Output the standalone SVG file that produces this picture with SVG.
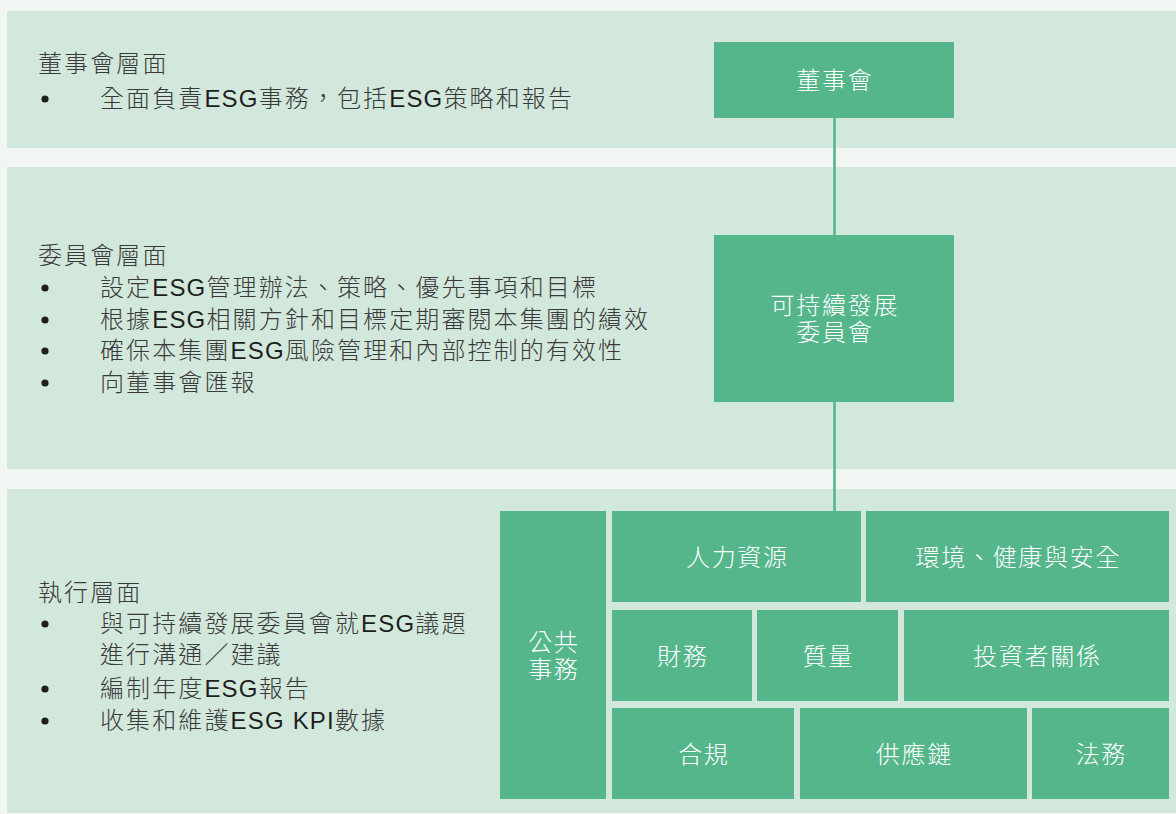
<svg xmlns="http://www.w3.org/2000/svg" width="1176" height="814" viewBox="0 0 1176 814">
<defs>
<style>
.bg{fill:#f1f6f3}
.band{fill:#d3e8dc}
.box{fill:#55b68c}
.lbl{font-family:"Liberation Sans","Noto Sans CJK TC",sans-serif;font-size:24px;font-weight:300;letter-spacing:2.1px;fill:#3a3a3a}
.lbl .e{fill:#1e1e1e;font-weight:400;letter-spacing:1.2px}
.nt{font-family:"Liberation Sans","Noto Sans CJK TC",sans-serif;font-size:24px;font-weight:300;letter-spacing:1.7px;fill:#ffffff;text-anchor:middle}
.dot{fill:#1e1e1e}
.conn{stroke:#55b68c;stroke-width:2.6;fill:none}
</style>
</defs>
<rect class="bg" x="0" y="0" width="1176" height="814"/>
<g id="bands">
<rect class="band" x="7" y="11" width="1169" height="137"/>
<rect class="band" x="7" y="167" width="1169" height="302"/>
<rect class="band" x="7" y="489" width="1169" height="324"/>
</g>
<g id="text-board">
<text class="lbl" x="38" y="72">董事會層面</text>
<circle class="dot" cx="45" cy="99" r="3.6"/>
<text class="lbl" x="100" y="107">全面負責<tspan class="e">ESG</tspan>事務，包括<tspan class="e">ESG</tspan>策略和報告</text>
</g>
<g id="text-committee">
<text class="lbl" x="38" y="264">委員會層面</text>
<circle class="dot" cx="45" cy="288" r="3.6"/>
<text class="lbl" x="100" y="296">設定<tspan class="e">ESG</tspan>管理辦法、策略、優先事項和目標</text>
<circle class="dot" cx="45" cy="320" r="3.6"/>
<text class="lbl" x="100" y="327.5">根據<tspan class="e">ESG</tspan>相關方針和目標定期審閱本集團的績效</text>
<circle class="dot" cx="45" cy="351" r="3.6"/>
<text class="lbl" x="100" y="359">確保本集團<tspan class="e">ESG</tspan>風險管理和內部控制的有效性</text>
<circle class="dot" cx="45" cy="383" r="3.6"/>
<text class="lbl" x="100" y="391">向董事會匯報</text>
</g>
<g id="text-exec">
<text class="lbl" x="38" y="601">執行層面</text>
<circle class="dot" cx="45" cy="624" r="3.6"/>
<text class="lbl" x="100" y="632">與可持續發展委員會就<tspan class="e">ESG</tspan>議題</text>
<text class="lbl" x="100" y="663">進行溝通／建議</text>
<circle class="dot" cx="45" cy="689" r="3.6"/>
<text class="lbl" x="100" y="697">編制年度<tspan class="e">ESG</tspan>報告</text>
<circle class="dot" cx="45" cy="721" r="3.6"/>
<text class="lbl" x="100" y="729">收集和維護<tspan class="e">ESG KPI</tspan>數據</text>
</g>
<g id="connectors">
<line class="conn" x1="834.5" y1="118" x2="834.5" y2="235"/>
<line class="conn" x1="834.5" y1="402" x2="834.5" y2="511"/>
</g>
<g id="node-board">
<rect class="box" x="714" y="42" width="240" height="76"/>
<text class="nt" x="834.85" y="89">董事會</text>
</g>
<g id="node-committee">
<rect class="box" x="714" y="235" width="240" height="167"/>
<text class="nt" x="834.85" y="314">可持續發展</text>
<text class="nt" x="834.85" y="341">委員會</text>
</g>
<g id="node-public">
<rect class="box" x="500" y="511" width="106" height="288"/>
<text class="nt" x="553.85" y="651">公共</text>
<text class="nt" x="553.85" y="678">事務</text>
</g>
<g id="node-hr">
<rect class="box" x="612" y="511" width="249" height="91"/>
<text class="nt" x="737.35" y="565.5">人力資源</text>
</g>
<g id="node-ehs">
<rect class="box" x="866" y="511" width="303" height="91"/>
<text class="nt" x="1018.35" y="565.5">環境、健康與安全</text>
</g>
<g id="node-finance">
<rect class="box" x="612" y="610" width="140" height="91"/>
<text class="nt" x="682.85" y="664.5">財務</text>
</g>
<g id="node-quality">
<rect class="box" x="757" y="610" width="141" height="91"/>
<text class="nt" x="828.35" y="664.5">質量</text>
</g>
<g id="node-ir">
<rect class="box" x="904" y="610" width="265" height="91"/>
<text class="nt" x="1037.35" y="664.5">投資者關係</text>
</g>
<g id="node-compliance">
<rect class="box" x="612" y="708" width="182" height="91"/>
<text class="nt" x="703.85" y="762.5">合規</text>
</g>
<g id="node-supply">
<rect class="box" x="800" y="708" width="227" height="91"/>
<text class="nt" x="914.35" y="762.5">供應鏈</text>
</g>
<g id="node-legal">
<rect class="box" x="1032" y="708" width="137" height="91"/>
<text class="nt" x="1101.35" y="762.5">法務</text>
</g>
</svg>
